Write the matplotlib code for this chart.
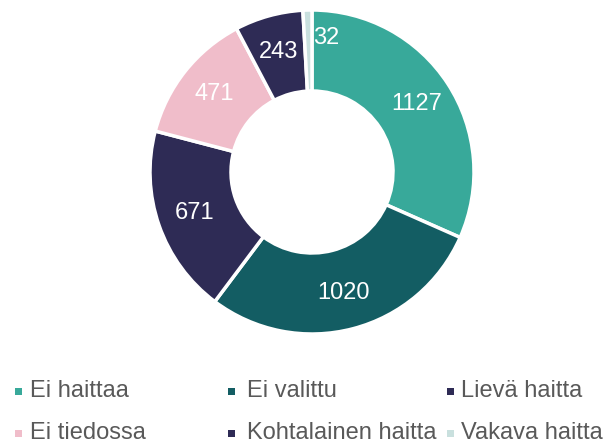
import matplotlib.pyplot as plt
from matplotlib.patches import Rectangle
import numpy as np

plt.rcParams['font.family'] = ['Liberation Sans', 'DejaVu Sans']

# data, clockwise from 12 o'clock
labels = ['Ei haittaa', 'Ei valittu', 'Lievä haitta', 'Ei tiedossa', 'Kohtalainen haitta', 'Vakava haitta']
values = [1127, 1020, 671, 471, 243, 32]
colors = ['#38a99a', '#135d63', '#2e2b55', '#f0bdca', '#2e2b55', '#c9e0de']

W, H = 610, 444
fig = plt.figure(figsize=(W / 100, H / 100), dpi=100)

# ring: centre (312, 172) px, radius 162 px
cx, cy, R = 312, 172, 162
ax = fig.add_axes([(cx - R) / W, 1 - (cy + R) / H, 2 * R / W, 2 * R / H])
wedges, texts = ax.pie(values, colors=colors, startangle=90, counterclock=False,
                       wedgeprops=dict(width=0.5, edgecolor='white', linewidth=2.5))
ax.set_xlim(-1, 1)
ax.set_ylim(-1, 1)
ax.set_aspect('equal')

# value labels in the middle of the ring
total = sum(values)
start = 90.0
for v in values:
    ang = start - 360.0 * v / total / 2
    start -= 360.0 * v / total
    r = 0.77
    x, y = r * np.cos(np.radians(ang)), r * np.sin(np.radians(ang))
    if v == 32:
        x, y = 0.09, 0.83
    ax.text(x, y, str(v), ha='center', va='center', color='white', fontsize=17)

# legend laid out like the original: 3 columns, 2 rows
legend_pos = [(15, 30, 391), (228, 247, 391), (447, 461, 391),
              (15, 30, 433), (228, 247, 433), (447, 461, 433)]
for (mx, tx, y), lab, col in zip(legend_pos, labels, colors):
    fig.patches.append(Rectangle((mx / W, 1 - (y + 3.5) / H), 7 / W, 7 / H,
                                 transform=fig.transFigure, facecolor=col, edgecolor='none'))
    fig.text(tx / W, 1 - y / H, lab, ha='left', va='center', fontsize=17, color='#595959')

fig.savefig('out.png', dpi=100)
